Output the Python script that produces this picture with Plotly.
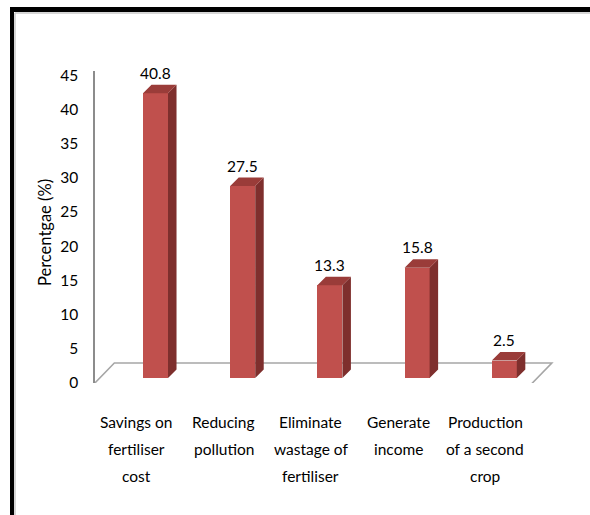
import plotly.graph_objects as go

# ---- data ----
category_lines = [
    ["Savings on", "fertiliser", "cost"],
    ["Reducing", "pollution"],
    ["Eliminate", "wastage of", "fertiliser"],
    ["Generate", "income"],
    ["Production", "of a second", "crop"],
]
values = [40.8, 27.5, 13.3, 15.8, 2.5]
y_ticks = [0, 5, 10, 15, 20, 25, 30, 35, 40, 45]

# ---- canvas / styling constants ----
W, H = 590, 515
FONT = "Lato, Roboto, Liberation Sans, sans-serif"
FS = 15.5
FRONT = "#C0504D"
SIDE = "#7E2F2D"
TOP = "#9A3C39"
GRID = "#A6A6A6"

BAR_W = 0.287      # bar front width in category units
DX = 0.0975        # depth offset, category units
DY = 1.22          # depth offset, bar-axis units
LABEL_SHIFT = -0.218  # category labels sit at the front edge of the floor
LINE_STEP = 27     # px between category label lines
FIRST_LINE = 422   # px from top of the first category label line

idx = list(range(len(values)))

fig = go.Figure()

# carrier for the percentage axis (nothing visible)
fig.add_trace(go.Scatter(
    x=idx, y=values, yaxis="y", mode="markers",
    marker=dict(opacity=0), hoverinfo="skip", showlegend=False,
))

# front faces of the bars
fig.add_trace(go.Bar(
    x=idx, y=values, base=0, width=BAR_W, yaxis="y2",
    marker=dict(color=FRONT, line=dict(width=0)),
    hoverinfo="skip", showlegend=False,
))

# side and top faces for the 3-D look
side_x, side_y, top_x, top_y = [], [], [], []
for i, v in zip(idx, values):
    l, r = i - BAR_W / 2, i + BAR_W / 2
    side_x += [r, r + DX, r + DX, r, r, None]
    side_y += [0, DY, v + DY, v, 0, None]
    top_x += [l, l + DX, r + DX, r, l, None]
    top_y += [v, v + DY, v + DY, v, v, None]

fig.add_trace(go.Scatter(
    x=side_x, y=side_y, yaxis="y2", mode="lines", fill="toself",
    fillcolor=SIDE, line=dict(width=0), hoverinfo="skip", showlegend=False,
))
fig.add_trace(go.Scatter(
    x=top_x, y=top_y, yaxis="y2", mode="lines", fill="toself",
    fillcolor=TOP, line=dict(width=0), hoverinfo="skip", showlegend=False,
))

# value labels above each bar
for i, v in zip(idx, values):
    fig.add_annotation(
        x=i, y=v + DY, xref="x", yref="y2", text=f"{v}",
        showarrow=False, yanchor="bottom", yshift=1,
        font=dict(family=FONT, size=FS, color="#000000"),
    )

# category labels, one line at a time
for i, lines in zip(idx, category_lines):
    for k, line in enumerate(lines):
        fig.add_annotation(
            x=i + LABEL_SHIFT, xref="x",
            y=1 - (FIRST_LINE + k * LINE_STEP) / H, yref="paper",
            text=line, showarrow=False, xanchor="center", yanchor="middle",
            font=dict(family=FONT, size=FS, color="#000000"),
        )

# floor parallelogram
fx0, fx1 = -0.717, 4.30
fy0, fy1 = -1.0, 2.15
fdx = 0.245
fig.add_shape(
    type="path", xref="x", yref="y2", layer="below",
    path=(f"M {fx0},{fy0} L {fx0 + fdx},{fy1} L {fx1 + fdx},{fy1} "
          f"L {fx1},{fy0} Z"),
    line=dict(color=GRID, width=1.6), fillcolor="rgba(0,0,0,0)",
)

# axis title
fig.add_annotation(
    x=45 / W, y=1 - 233 / H, xref="paper", yref="paper",
    text="Percentgae (%)", textangle=-90, showarrow=False,
    xanchor="center", yanchor="middle",
    font=dict(family=FONT, size=16.5, color="#000000"),
)

# outer frame (thick black on top and left, thin grey inset)
fig.add_shape(type="rect", xref="paper", yref="paper",
              x0=10 / W, x1=14 / W, y0=0, y1=1 - 7 / H,
              fillcolor="#000000", line=dict(width=0))
fig.add_shape(type="rect", xref="paper", yref="paper",
              x0=10 / W, x1=1, y0=1 - 12 / H, y1=1 - 7 / H,
              fillcolor="#000000", line=dict(width=0))
fig.add_shape(type="line", xref="paper", yref="paper",
              x0=15 / W, x1=15 / W, y0=0, y1=1 - 13 / H,
              line=dict(color="#C8C8C8", width=1.5))
fig.add_shape(type="line", xref="paper", yref="paper",
              x0=15 / W, x1=1, y0=1 - 13 / H, y1=1 - 13 / H,
              line=dict(color="#C8C8C8", width=1.5))

x_lo = (95 - 155.5) / 87.2
x_hi = (590 - 155.5) / 87.2

fig.update_layout(
    width=W, height=H,
    margin=dict(l=0, r=0, t=0, b=0, autoexpand=False),
    paper_bgcolor="white", plot_bgcolor="rgba(0,0,0,0)",
    bargap=0,
    xaxis=dict(
        domain=[95 / W, 1], range=[x_lo, x_hi],
        showticklabels=False, showline=False, showgrid=False,
        zeroline=False, ticks="", automargin=False, fixedrange=True,
    ),
    yaxis=dict(
        domain=[1 - 383 / H, 1 - 71 / H], range=[0, 45.6],
        tickvals=y_ticks, showline=True, linecolor="#8C8C8C", linewidth=1.5,
        showgrid=False, zeroline=False, ticks="", ticklabelstandoff=12,
        tickfont=dict(family=FONT, size=FS, color="#000000"),
        automargin=False, fixedrange=True,
    ),
    yaxis2=dict(
        overlaying="y", range=[-5 / 6.98, (378 - 71) / 6.98],
        visible=False, fixedrange=True,
    ),
)

fig.write_html("out.html")
